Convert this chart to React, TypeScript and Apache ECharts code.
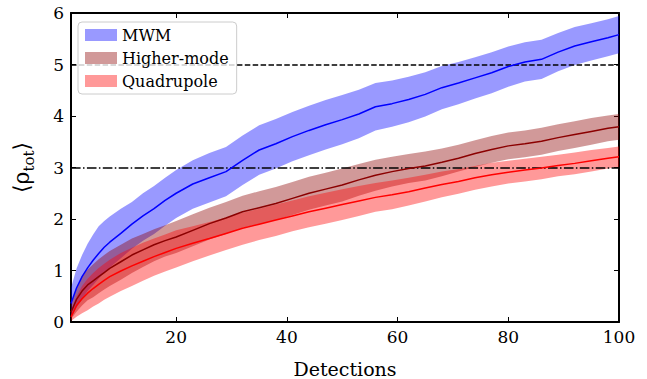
import React, { useEffect, useRef } from "react";
import * as echarts from "echarts";

const detections = [1, 2, 3, 4, 5, 6, 7, 8, 10, 12, 14, 16, 18, 20, 23, 26, 29, 32, 35, 38, 41, 44, 47, 50, 53, 56, 59, 62, 65, 68, 71, 74, 77, 80, 83, 86, 89, 92, 95, 98, 100];

const mwmMean = [0.36, 0.66, 0.88, 1.05, 1.2, 1.33, 1.45, 1.55, 1.72, 1.9, 2.06, 2.2, 2.36, 2.5, 2.68, 2.8, 2.92, 3.14, 3.34, 3.46, 3.6, 3.72, 3.83, 3.93, 4.04, 4.18, 4.24, 4.32, 4.42, 4.55, 4.64, 4.74, 4.84, 4.96, 5.05, 5.1, 5.24, 5.36, 5.44, 5.52, 5.58];
const mwmUpper = [0.66, 1.04, 1.3, 1.52, 1.7, 1.86, 1.96, 2.05, 2.2, 2.33, 2.5, 2.64, 2.8, 2.95, 3.14, 3.28, 3.4, 3.62, 3.82, 3.94, 4.08, 4.2, 4.31, 4.41, 4.51, 4.64, 4.69, 4.76, 4.85, 4.97, 5.05, 5.14, 5.24, 5.35, 5.43, 5.48, 5.61, 5.73, 5.8, 5.88, 5.94];
const mwmLower = [0.08, 0.28, 0.44, 0.6, 0.72, 0.84, 0.96, 1.06, 1.24, 1.42, 1.58, 1.71, 1.87, 2.02, 2.2, 2.32, 2.44, 2.66, 2.86, 2.98, 3.12, 3.24, 3.35, 3.45, 3.57, 3.72, 3.79, 3.88, 3.99, 4.13, 4.23, 4.34, 4.44, 4.57, 4.67, 4.72, 4.87, 4.99, 5.08, 5.16, 5.22];

const hmMean = [0.19, 0.44, 0.6, 0.72, 0.8, 0.88, 0.96, 1.04, 1.17, 1.3, 1.4, 1.5, 1.58, 1.65, 1.78, 1.91, 2.02, 2.14, 2.22, 2.3, 2.4, 2.5, 2.58, 2.66, 2.76, 2.85, 2.92, 2.98, 3.03, 3.1, 3.18, 3.27, 3.35, 3.42, 3.46, 3.51, 3.58, 3.64, 3.7, 3.76, 3.79];
const hmUpper = [0.33, 0.66, 0.9, 1.02, 1.12, 1.22, 1.3, 1.38, 1.5, 1.62, 1.71, 1.8, 1.88, 1.96, 2.09, 2.22, 2.33, 2.45, 2.54, 2.62, 2.72, 2.82, 2.9, 2.98, 3.07, 3.15, 3.21, 3.26, 3.31, 3.37, 3.44, 3.53, 3.61, 3.68, 3.72, 3.77, 3.84, 3.9, 3.96, 4.01, 4.04];
const hmLower = [0.06, 0.2, 0.32, 0.42, 0.48, 0.56, 0.63, 0.7, 0.82, 0.95, 1.07, 1.18, 1.27, 1.34, 1.47, 1.6, 1.71, 1.83, 1.9, 1.98, 2.08, 2.18, 2.26, 2.34, 2.45, 2.55, 2.63, 2.7, 2.75, 2.83, 2.92, 3.01, 3.09, 3.16, 3.2, 3.25, 3.32, 3.38, 3.44, 3.51, 3.54];

const quadMean = [0.1, 0.32, 0.45, 0.56, 0.65, 0.73, 0.81, 0.88, 0.99, 1.09, 1.18, 1.27, 1.35, 1.43, 1.53, 1.62, 1.72, 1.82, 1.9, 1.98, 2.06, 2.14, 2.21, 2.28, 2.35, 2.42, 2.47, 2.53, 2.6, 2.67, 2.73, 2.8, 2.86, 2.91, 2.95, 2.99, 3.04, 3.08, 3.13, 3.18, 3.21];
const quadUpper = [0.2, 0.5, 0.7, 0.84, 0.95, 1.05, 1.13, 1.21, 1.34, 1.44, 1.54, 1.62, 1.7, 1.78, 1.86, 1.94, 2.03, 2.12, 2.2, 2.28, 2.36, 2.44, 2.51, 2.58, 2.64, 2.7, 2.75, 2.8, 2.86, 2.92, 2.97, 3.03, 3.09, 3.13, 3.17, 3.21, 3.25, 3.29, 3.34, 3.38, 3.41];
const quadLower = [0.02, 0.1, 0.17, 0.23, 0.3, 0.36, 0.43, 0.49, 0.6, 0.7, 0.8, 0.9, 0.98, 1.06, 1.18, 1.29, 1.4, 1.5, 1.59, 1.67, 1.76, 1.84, 1.91, 1.98, 2.06, 2.14, 2.19, 2.26, 2.34, 2.42, 2.49, 2.57, 2.63, 2.69, 2.73, 2.77, 2.83, 2.87, 2.92, 2.98, 3.01];

const xTicks = [20, 40, 60, 80, 100];
const refLevels = { dashed: 5, dashDot: 3 };

const FONT = "DejaVu Serif";

function bandSeries(name: string, lower: number[], upper: number[], fill: string, z: number) {
  return {
    name,
    type: "custom",
    silent: true,
    z,
    itemStyle: { color: fill },
    data: detections.map((x, i) => [x, lower[i], upper[i]]),
    encode: { x: 0, y: [1, 2] },
    renderItem: (params: any, api: any) => {
      if (params.dataIndex !== 0) return null;
      const top = detections.map((x, i) => api.coord([x, upper[i]]));
      const bottom = detections.map((x, i) => api.coord([x, lower[i]])).reverse();
      return {
        type: "polygon",
        shape: { points: top.concat(bottom) },
        style: { fill, stroke: "none" },
      };
    },
  };
}

function meanSeries(name: string, values: number[], color: string) {
  return {
    name,
    type: "line",
    symbol: "none",
    silent: true,
    z: 5,
    lineStyle: { color, width: 1.5 },
    data: detections.map((x, i) => [x, values[i]]),
  };
}

export default function App() {
  const ref = useRef<HTMLDivElement>(null);
  useEffect(() => {
    if (!ref.current) return;
    document.body.style.margin = "0";
    const chart = echarts.init(ref.current, null, { renderer: "svg" });
    const tickStyle = { inside: true, length: 5, lineStyle: { color: "#000", width: 1 } };
    const axisLine = { show: true, onZero: false, lineStyle: { color: "#000", width: 2 } };
    chart.setOption({
      animation: false,
      backgroundColor: "#fff",
      grid: { left: 71, right: 28, top: 13, bottom: 57, containLabel: false, outerBoundsMode: "none" },
      legend: {
        left: 78,
        top: 22,
        orient: "vertical",
        icon: "rect",
        itemWidth: 32,
        itemHeight: 12,
        itemGap: 7,
        itemTextGap: 12,
        padding: [5, 8, 5, 7],
        backgroundColor: "rgba(255,255,255,0.8)",
        borderColor: "#cccccc",
        borderWidth: 1,
        borderRadius: 4,
        textStyle: { fontFamily: FONT, fontSize: 16, color: "#000", lineHeight: 16 },
        data: [
          { name: "MWM", itemStyle: { color: "rgba(0,0,255,0.4)" } },
          { name: "Higher-mode", itemStyle: { color: "rgba(139,0,0,0.4)" } },
          { name: "Quadrupole", itemStyle: { color: "rgba(255,0,0,0.4)" } },
        ],
        z: 10,
      },
      xAxis: [
        {
          type: "value",
          min: 1,
          max: 100,
          position: "bottom",
          name: "Detections",
          nameLocation: "middle",
          nameGap: 37,
          nameTextStyle: { fontFamily: FONT, fontSize: 19, color: "#000" },
          axisLine,
          axisTick: { ...tickStyle, customValues: xTicks },
          axisLabel: { customValues: xTicks, fontFamily: FONT, fontSize: 17, color: "#000", margin: 6 },
          splitLine: { show: false },
        },
        {
          type: "value",
          min: 1,
          max: 100,
          position: "top",
          axisLine,
          axisTick: { ...tickStyle, customValues: xTicks },
          axisLabel: { show: false },
          splitLine: { show: false },
        },
      ],
      yAxis: [
        {
          type: "value",
          min: 0,
          max: 6,
          interval: 1,
          position: "left",
          name: "⟨ρ{sub|tot}⟩",
          nameLocation: "middle",
          nameRotate: 90,
          nameGap: 35,
          nameTextStyle: {
            fontFamily: FONT,
            fontSize: 22,
            color: "#000",
            lineHeight: 22,
            rich: {
              sub: { fontFamily: FONT, fontSize: 15, color: "#000", lineHeight: 30, verticalAlign: "bottom" },
            },
          },
          axisLine,
          axisTick: tickStyle,
          axisLabel: { fontFamily: FONT, fontSize: 17, color: "#000", margin: 7 },
          splitLine: { show: false },
        },
        {
          type: "value",
          min: 0,
          max: 6,
          interval: 1,
          position: "right",
          axisLine,
          axisTick: tickStyle,
          axisLabel: { show: false },
          splitLine: { show: false },
        },
      ],
      series: [
        bandSeries("MWM", mwmLower, mwmUpper, "rgba(0,0,255,0.4)", 2),
        bandSeries("Higher-mode", hmLower, hmUpper, "rgba(139,0,0,0.4)", 3),
        bandSeries("Quadrupole", quadLower, quadUpper, "rgba(255,0,0,0.4)", 4),
        meanSeries("MWM mean", mwmMean, "#0000ff"),
        meanSeries("Higher-mode mean", hmMean, "#8b0000"),
        meanSeries("Quadrupole mean", quadMean, "#ff0000"),
        {
          type: "line",
          data: [],
          silent: true,
          z: 6,
          markLine: {
            silent: true,
            symbol: "none",
            label: { show: false },
            data: [
              { yAxis: refLevels.dashed, lineStyle: { color: "#000", width: 1.5, type: [5.5, 2.4] } },
              { yAxis: refLevels.dashDot, lineStyle: { color: "#000", width: 1.5, type: [9.6, 2.4, 1.5, 2.4] } },
            ],
          },
        },
      ],
    });
    return () => chart.dispose();
  }, []);
  return <div ref={ref} style={{ width: 647, height: 379 }} />;
}
